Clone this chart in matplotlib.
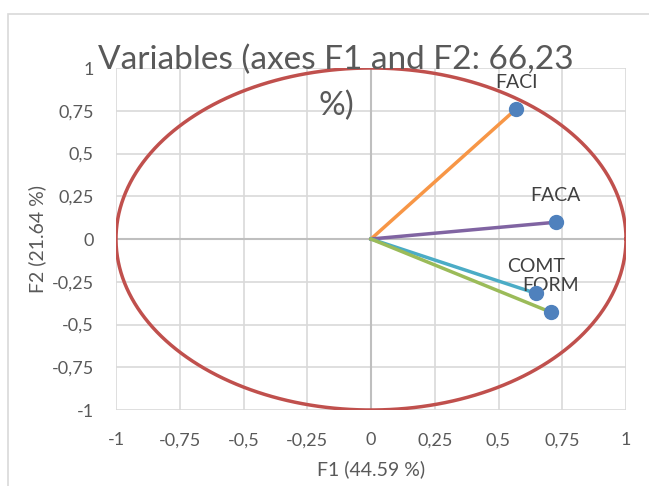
import matplotlib
matplotlib.use("Agg")
import matplotlib.pyplot as plt
import numpy as np
from matplotlib.patches import Rectangle

# Correlation circle: variable loadings on F1 and F2
variables = ["FACI", "FACA", "COMT", "FORM"]
f1 = [0.569, 0.724, 0.647, 0.705]
f2 = [0.760, 0.098, -0.318, -0.428]
line_colors = ["#F79646", "#8064A2", "#4BACC6", "#9BBB59"]
ticks = [-1, -0.75, -0.5, -0.25, 0, 0.25, 0.5, 0.75, 1]
tick_labels = ["-1", "-0,75", "-0,5", "-0,25", "0", "0,25", "0,5", "0,75", "1"]

plt.rcParams["font.family"] = ["Lato", "DejaVu Sans"]
text_color = "#595959"

fig = plt.figure(figsize=(6.49, 4.86), dpi=100)
ax = fig.add_axes([116 / 649, 1 - 410 / 486, 510 / 649, 342 / 486])

# chart border
fig.patches.append(Rectangle((8 / 649, -0.1), 1.2, 1 - 14 / 486 + 0.1,
                             transform=fig.transFigure, fill=False,
                             edgecolor="#D9D9D9", linewidth=1.2))

ax.set_xlim(-1, 1)
ax.set_ylim(-1, 1)
ax.set_xticks(ticks)
ax.set_yticks(ticks)
ax.set_xticklabels(tick_labels)
ax.set_yticklabels(tick_labels)
ax.tick_params(length=0, labelsize=13, colors=text_color)
ax.tick_params(axis="x", pad=16)
ax.tick_params(axis="y", pad=16)
for s in ax.spines.values():
    s.set_visible(False)
ax.grid(True, color="#D9D9D9", linewidth=1.2)
ax.set_axisbelow(True)
ax.axhline(0, color="#BFBFBF", linewidth=1.5, zorder=1)
ax.axvline(0, color="#BFBFBF", linewidth=1.5, zorder=1)

# unit circle
t = np.linspace(0, 2 * np.pi, 400)
ax.plot(np.cos(t), np.sin(t), color="#C0504D", linewidth=2.5, zorder=2)

for name, x, y, c in zip(variables, f1, f2, line_colors):
    ax.plot([0, x], [0, y], color=c, linewidth=2.5, zorder=3)
for name, x, y in zip(variables, f1, f2):
    ax.plot([x], [y], "o", color="#4F81BD", markersize=10, zorder=4)
    ax.annotate(name, (x, y), xytext=(0, 13), textcoords="offset points",
                ha="center", va="bottom", fontsize=14, color="#404040")

ax.set_xlabel("F1 (44.59 %)", fontsize=14, color=text_color, labelpad=9)
ax.set_ylabel("F2 (21.64 %)", fontsize=14, color=text_color, labelpad=4)

fig.text(336 / 649, 1 - 60 / 486, "Variables (axes F1 and F2: 66,23",
         ha="center", va="center", fontsize=24, color=text_color, zorder=10)
fig.text(336 / 649, 1 - 106 / 486, "%)",
         ha="center", va="center", fontsize=24, color=text_color, zorder=10)

fig.savefig("out.png", dpi=100)
